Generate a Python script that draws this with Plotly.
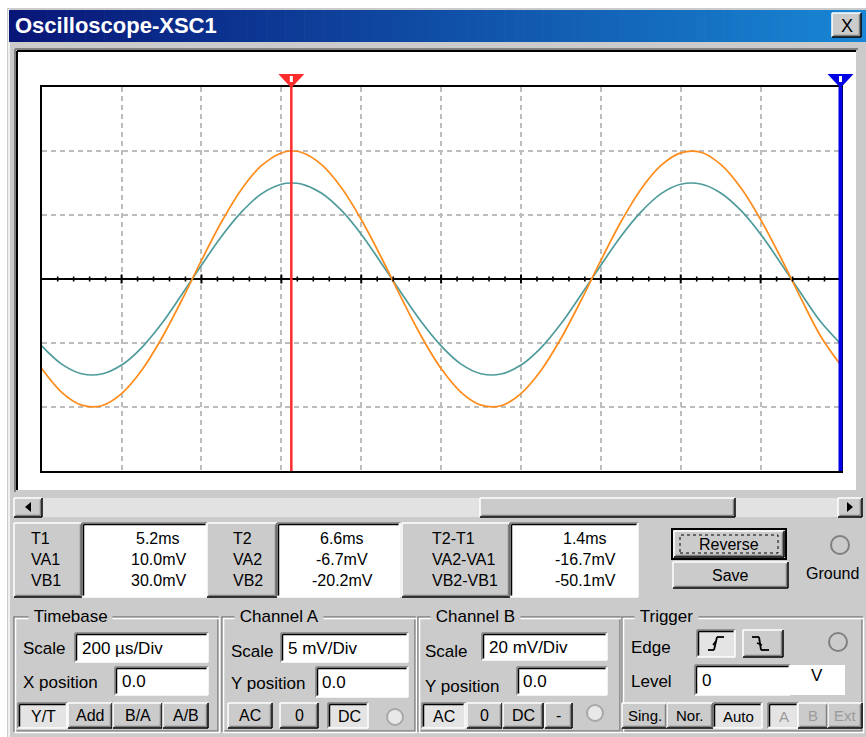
import plotly.graph_objects as go

W, H = 866, 737

time_ms = [0.0, 0.05, 0.10, 0.15, 0.20, 0.25, 0.30, 0.35, 0.40, 0.45, 0.50, 0.55,
           0.60, 0.625, 0.65, 0.70, 0.75, 0.80, 0.85, 0.90, 0.95, 1.00, 1.05, 1.10,
           1.15, 1.20, 1.25, 1.30, 1.35, 1.40, 1.45, 1.50, 1.55, 1.60, 1.65, 1.70,
           1.75, 1.80, 1.85, 1.90, 1.95, 2.00]
channel_a_mV = [-7.0, -8.85, -9.85, -9.9, -8.95, -7.15, -4.65, -1.7, 1.45, 4.45, 7.0, 8.85,
                9.85, 10.0, 9.9, 8.95, 7.15, 4.65, 1.7, -1.45, -4.45, -7.0, -8.85, -9.85,
                -9.9, -8.95, -7.15, -4.65, -1.7, 1.45, 4.45, 7.0, 8.85, 9.85, 9.9, 8.95,
                7.15, 4.65, 1.7, -1.45, -4.45, -6.7]
channel_b_mV = [-20.9, -26.6, -29.6, -29.7, -26.9, -21.5, -14.0, -5.0, 4.3, 13.3, 20.9, 26.6,
                29.6, 30.0, 29.7, 26.9, 21.5, 14.0, 5.0, -4.3, -13.3, -20.9, -26.6, -29.6,
                -29.7, -26.9, -21.5, -14.0, -5.0, 4.3, 13.3, 20.9, 26.6, 29.6, 29.7, 26.9,
                21.5, 14.0, 5.0, -4.3, -13.3, -20.2]
timebase_ms_per_div = 0.2
channel_a_mV_per_div = 5
channel_b_mV_per_div = 20
n_xdiv = 10
n_ydiv = 6
cursor_t1_ms = 0.625
cursor_t2_ms = 2.0

readout_labels_1 = ["T1", "VA1", "VB1"]
readout_values_1 = ["5.2ms", "10.0mV", "30.0mV"]
readout_labels_2 = ["T2", "VA2", "VB2"]
readout_values_2 = ["6.6ms", "-6.7mV", "-20.2mV"]
readout_labels_3 = ["T2-T1", "VA2-VA1", "VB2-VB1"]
readout_values_3 = ["1.4ms", "-16.7mV", "-50.1mV"]

# ---------------- styling helpers ----------------
GRAY = '#cbcbcb'
DARK = '#808080'
FONT = 'Liberation Sans, Arial, sans-serif'
ORANGE = '#ff8c1a'
TEAL = '#4f9b9b'


def X(p):
    return p / W


def Y(p):
    return 1 - p / H


shapes, annos = [], []


def rect(x0, y0, x1, y1, fill=None, line=None, lw=1.0, layer='below', dash=None):
    ln = dict(width=lw if line else 0, color=line or 'rgba(0,0,0,0)')
    if dash:
        ln['dash'] = dash
    shapes.append(dict(type='rect', xref='paper', yref='paper', x0=X(x0), x1=X(x1),
                       y0=Y(y1), y1=Y(y0), fillcolor=fill or 'rgba(0,0,0,0)', line=ln,
                       layer=layer))


def seg(x0, y0, x1, y1, color, lw=1.0, layer='below'):
    shapes.append(dict(type='line', xref='paper', yref='paper', x0=X(x0), y0=Y(y0),
                       x1=X(x1), y1=Y(y1), line=dict(color=color, width=lw), layer=layer))


def poly(pts, fill, layer='below'):
    path = 'M ' + ' L '.join(f'{X(a):.5f},{Y(b):.5f}' for a, b in pts) + ' Z'
    shapes.append(dict(type='path', xref='paper', yref='paper', path=path, fillcolor=fill,
                       line=dict(width=0), layer=layer))


def circle(cx, cy, r, fill, line, lw=1.5):
    shapes.append(dict(type='circle', xref='paper', yref='paper', x0=X(cx - r), x1=X(cx + r),
                       y0=Y(cy + r), y1=Y(cy - r), fillcolor=fill,
                       line=dict(color=line, width=lw), layer='below'))


def text(x, y, s, size=17, color='black', anchor='left', bold=False, bg=None):
    annos.append(dict(x=X(x), y=Y(y), xref='paper', yref='paper',
                      text=f'<b>{s}</b>' if bold else s, showarrow=False,
                      xanchor=anchor, yanchor='middle',
                      font=dict(family=FONT, size=size, color=color),
                      bgcolor=bg, borderpad=0))


def raised(x0, y0, x1, y1, fill=GRAY):
    rect(x0, y0, x1, y1, fill=fill)
    seg(x0, y0, x1, y0, 'white', 1.5)
    seg(x0, y0, x0, y1, 'white', 1.5)
    seg(x0 + 1.5, y1 - 1.5, x1 - 1.5, y1 - 1.5, DARK, 1.5)
    seg(x1 - 1.5, y0 + 1.5, x1 - 1.5, y1 - 1.5, DARK, 1.5)
    seg(x0, y1, x1, y1, 'black', 1.5)
    seg(x1, y0, x1, y1, 'black', 1.5)


def sunken(x0, y0, x1, y1, fill='white'):
    rect(x0, y0, x1, y1, fill=fill)
    seg(x0, y0, x1, y0, DARK, 1.5)
    seg(x0, y0, x0, y1, DARK, 1.5)
    seg(x0 + 1.5, y0 + 1.5, x1 - 1.5, y0 + 1.5, 'black', 1.5)
    seg(x0 + 1.5, y0 + 1.5, x0 + 1.5, y1 - 1.5, 'black', 1.5)
    seg(x0, y1, x1, y1, 'white', 1.5)
    seg(x1, y0, x1, y1, 'white', 1.5)


def button(x0, x1, label, down=False, disabled=False, y0=703, y1=728, size=16):
    if down:
        sunken(x0, y0, x1, y1, fill='#e4e4e4')
    else:
        raised(x0, y0, x1, y1)
    text((x0 + x1) / 2 + (1 if down else 0), (y0 + y1) / 2 + (1 if down else 0), label,
         size=size, color='#9a9a9a' if disabled else 'black', anchor='center')


# ---------------- window chrome ----------------
rect(7, 8, W, H, fill=GRAY)
seg(9, 9, 9, H, '#f0f0f0', 2)
# title bar gradient
c0, c1 = (8, 22, 120), (24, 134, 212)
nstrip = 90
x_start, x_end = 9, W
for i in range(nstrip):
    f = i / (nstrip - 1)
    col = 'rgb(%d,%d,%d)' % tuple(round(a + (b - a) * f) for a, b in zip(c0, c1))
    xa = x_start + (x_end - x_start) * i / nstrip
    xb = x_start + (x_end - x_start) * (i + 1) / nstrip + 0.6
    rect(xa, 10, xb, 42, fill=col)
text(14, 26, 'Oscilloscope-XSC1', size=22, color='white', bold=True)
raised(832, 13, 861, 37)
text(846.5, 25.5, 'X', size=18, anchor='center')

# display frame
rect(18, 51, 856, 490, fill='white')
seg(15, 49, 858, 49, DARK, 2)
seg(15, 49, 15, 492, DARK, 2)
seg(17, 51, 856, 51, 'black', 2)
seg(17, 51, 17, 490, 'black', 2)

# scrollbar
rect(42, 498, 838, 517, fill='#e2e2e2')
raised(14, 498, 42, 517)
poly([(31, 502), (31, 512), (25, 507)], 'black')
raised(480, 498, 735, 517)
raised(838, 498, 862, 517)
poly([(847, 502), (847, 512), (853, 507)], 'black')

# readouts
line_y = [538, 559, 580]
for (lx0, lx1, vx0, vx1, tx, vc, labs, vals) in [
        (14, 82, 82, 207, 30, 158, readout_labels_1, readout_values_1),
        (207, 277, 277, 400, 232, 342, readout_labels_2, readout_values_2),
        (402, 510, 510, 638, 431, 585, readout_labels_3, readout_values_3)]:
    raised(lx0, 523, lx1, 597)
    sunken(vx0, 523, vx1, 597)
    for yy, lab, val in zip(line_y, labs, vals):
        text(tx, yy, lab, size=16)
        text(vc, yy, val, size=16, anchor='center')

# Reverse / Save / Ground
rect(672, 529, 786, 559, line='black', lw=2)
raised(674, 531, 784, 557)
rect(680, 535, 778, 553, line='black', lw=1, dash='dot')
text(729, 544, 'Reverse', size=16, anchor='center')
raised(673, 562, 788, 588)
text(730, 575, 'Save', size=16, anchor='center')
circle(840, 545, 9, GRAY, DARK, 2)
text(832, 573, 'Ground', size=16, anchor='center')

# group boxes
for gx0, gx1, lab, lx in [(14, 218, 'Timebase', 28), (222, 415, 'Channel A', 234),
                          (418, 620, 'Channel B', 430), (622, 862, 'Trigger', 634)]:
    rect(gx0, 617, gx1, 731, line=DARK, lw=1.5)
    rect(gx0 + 1.5, 618.5, gx1 + 1.5, 732.5, line='white', lw=1.5)
    text(lx, 616, '&nbsp;' + lab + '&nbsp;', size=17, bg=GRAY)

# Timebase
text(22, 648, 'Scale')
sunken(75, 633, 208, 662)
text(81, 648, '200 µs/Div')
text(22, 682, 'X position')
sunken(115, 667, 208, 695)
text(121, 681, '0.0')
button(18, 67, 'Y/T', down=True)
button(68, 112, 'Add')
button(113, 162, 'B/A')
button(163, 208, 'A/B')

# Channel A
text(230, 651, 'Scale')
sunken(281, 633, 408, 662)
text(287, 648, '5 mV/Div')
text(230, 683, 'Y position')
sunken(316, 667, 408, 697)
text(321, 682, '0.0')
button(228, 272, 'AC')
button(280, 318, '0')
button(328, 368, 'DC', down=True)
circle(395, 717, 8, '#e8e8e8', '#a8a8a8', 2)

# Channel B
text(424, 651, 'Scale')
sunken(482, 633, 607, 660)
text(488, 647, '20 mV/Div')
text(424, 686, 'Y position')
sunken(517, 667, 607, 695)
text(522, 681, '0.0')
button(422, 465, 'AC', down=True)
button(467, 502, '0')
button(503, 543, 'DC')
button(545, 572, '-')
circle(595, 713, 8, '#e8e8e8', '#a8a8a8', 2)

# Trigger
text(630, 647, 'Edge')
sunken(697, 630, 735, 657, fill='#e4e4e4')
raised(743, 630, 783, 657)
for pts in ([(708, 650), (714, 650), (717, 637), (724, 637)],
            [(752, 637), (759, 637), (761, 650), (769, 650)]):
    for (a, b), (c, d) in zip(pts[:-1], pts[1:]):
        seg(a, b, c, d, 'black', 1.8)
seg(713, 645, 716, 641, 'black', 1.5)
seg(757, 643, 762, 645, 'black', 1.5)
circle(838, 642, 9, GRAY, DARK, 2)
text(630, 681, 'Level')
sunken(695, 665, 790, 695)
text(701, 680, '0')
rect(790, 665, 845, 695, fill='white')
text(817, 675, 'V', anchor='center')
button(622, 667, 'Sing.', size=15)
button(667, 713, 'Nor.', size=15)
button(713, 762, 'Auto', down=True, size=15)
button(768, 798, 'A', down=True, disabled=True, size=15)
button(798, 828, 'B', disabled=True, size=15)
button(828, 862, 'Ext', disabled=True, size=15)

# ---------------- scope screen ----------------
x_left, x_right, y_top, y_bot = 41.7, 840.5, 87, 471
y_mid = (y_top + y_bot) / 2
t_max = timebase_ms_per_div * n_xdiv


def t_to_px(t):
    return x_left + (x_right - x_left) * t / t_max


# centre-line tick marks
for i in range(1, n_xdiv * 5):
    t = i * timebase_ms_per_div / 5
    h = 4.5 if i % 5 == 0 else 2.5
    shapes.append(dict(type='line', xref='x', yref='paper', x0=t, x1=t,
                       y0=Y(y_mid + h), y1=Y(y_mid - h),
                       line=dict(color='black', width=2 if i % 5 == 0 else 1.6), layer='above'))

# cursors (drawn in page coordinates so the edge cursor is not clipped)
for t, col, lw in [(cursor_t1_ms, '#ff2d2d', 2.5), (cursor_t2_ms, '#0000e6', 4)]:
    px = t_to_px(t)
    seg(px, y_top, px, y_bot, col, lw, layer='above')
    poly([(px - 13, 74), (px + 13, 74), (px, 88)], col, layer='above')
    rect(px - 1.5, 76, px + 1.5, 82, fill='white', layer='above')

fig = go.Figure()
fig.add_trace(go.Scatter(x=time_ms, y=[v / channel_b_mV_per_div for v in channel_b_mV],
                         mode='lines', line=dict(color=TEAL, width=1.7, shape='spline',
                                                 smoothing=1.0),
                         hoverinfo='skip', showlegend=False))
fig.add_trace(go.Scatter(x=time_ms, y=[v / channel_a_mV_per_div for v in channel_a_mV],
                         mode='lines', line=dict(color=ORANGE, width=1.7, shape='spline',
                                                 smoothing=1.0),
                         hoverinfo='skip', showlegend=False))

fig.update_layout(
    width=W, height=H, margin=dict(l=0, r=0, t=0, b=0),
    paper_bgcolor='white', plot_bgcolor='rgba(0,0,0,0)',
    shapes=shapes, annotations=annos,
    xaxis=dict(domain=[X(x_left), X(x_right)], range=[0, t_max], dtick=timebase_ms_per_div,
               tick0=0, showgrid=True, gridcolor='#bdbdbd', gridwidth=1.6,
               griddash='5px,4px', zeroline=False, showticklabels=False, ticks='',
               showline=True, mirror=True, linecolor='black', linewidth=2, fixedrange=True),
    yaxis=dict(domain=[Y(y_bot), Y(y_top)], range=[-n_ydiv / 2, n_ydiv / 2], dtick=1,
               showgrid=True, gridcolor='#bdbdbd', gridwidth=1.6, griddash='5px,4px',
               zeroline=True, zerolinecolor='black', zerolinewidth=2,
               showticklabels=False, ticks='', showline=True, mirror=True,
               linecolor='black', linewidth=2, fixedrange=True),
)

fig.write_html('out.html')
